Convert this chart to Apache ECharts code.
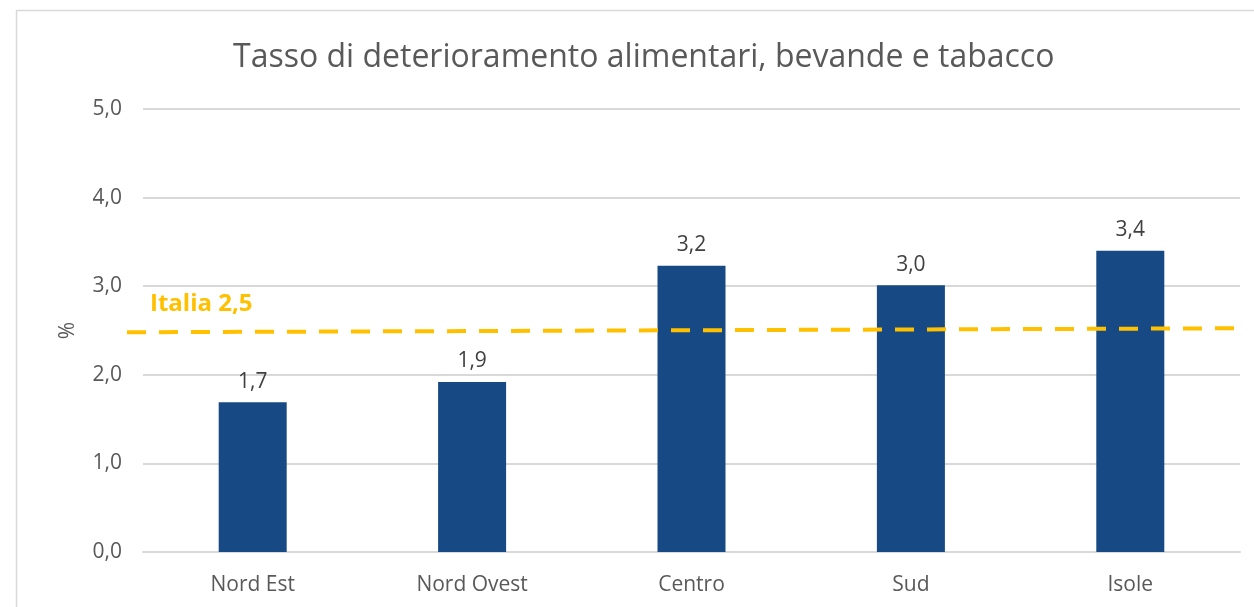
<!DOCTYPE html>
<html><head><meta charset="utf-8">
<script src="https://cdn.jsdelivr.net/npm/echarts@6/dist/echarts.min.js"></script>
<style>html,body{margin:0;padding:0;background:#fff}#c{width:1254px;height:607px}</style>
</head><body><div id="c"></div>
<script>
const categories = ['Nord Est', 'Nord Ovest', 'Centro', 'Sud', 'Isole'];
const values = [1.69, 1.92, 3.23, 3.01, 3.40];
const italiaLine = [[0, 2.48], [1, 2.525]];
const italiaLabel = 'Italia 2,5';
const titleText = 'Tasso di deterioramento alimentari, bevande e tabacco';
const yTicks = [0, 1, 2, 3, 4, 5];

const fmt = v => v.toFixed(1).replace('.', ',');
const FONT = 'Open Sans';
const chart = echarts.init(document.getElementById('c'), null, {renderer: 'canvas'});
chart.setOption({
  animation: false,
  backgroundColor: '#fff',
  textStyle: {fontFamily: FONT},
  title: {
    text: titleText, left: 228, top: 37,
    textStyle: {fontFamily: FONT, fontSize: 32, fontWeight: 'normal', color: '#595959'}
  },
  graphic: [
    {type: 'rect', shape: {x: 16.5, y: 10.5, width: 1400, height: 800}, style: {fill: null, stroke: '#D9D9D9', lineWidth: 1.5}, z: -1},
    {type: 'text', left: 150, top: 292, style: {text: italiaLabel, fill: '#FFC000', font: 'bold 24px "' + FONT + '"'}}
  ],
  grid: [
    {left: 143, right: 14, top: 109, bottom: 55},
    {left: 127, right: 14, top: 109, bottom: 55}
  ],
  xAxis: [
    {type: 'category', gridIndex: 0, data: categories,
      axisLine: {show: true, lineStyle: {color: '#D9D9D9', width: 2}}, axisTick: {show: false},
      axisLabel: {color: '#595959', fontSize: 21, margin: 23, fontFamily: FONT}},
    {type: 'value', gridIndex: 1, min: 0, max: 1, show: false}
  ],
  yAxis: [
    {type: 'value', gridIndex: 0, min: 0, max: 5, interval: 1,
      name: '%', nameLocation: 'middle', nameGap: 64, nameRotate: 90,
      nameTextStyle: {color: '#595959', fontSize: 21, fontFamily: FONT},
      axisLine: {show: false}, axisTick: {show: false},
      axisLabel: {color: '#595959', fontSize: 21, margin: 21, formatter: v => fmt(v), fontFamily: FONT},
      splitLine: {lineStyle: {color: '#D9D9D9', width: 2}}},
    {type: 'value', gridIndex: 1, min: 0, max: 5, show: false}
  ],
  series: [
    {type: 'bar', xAxisIndex: 0, yAxisIndex: 0, data: values, barWidth: '31%',
      itemStyle: {color: '#174A84'},
      label: {show: true, position: 'top', distance: 10, color: '#404040', fontSize: 21, fontFamily: FONT,
        formatter: p => fmt(p.value)}},
    {type: 'line', xAxisIndex: 1, yAxisIndex: 1, data: italiaLine, symbol: 'none', z: 5,
      lineStyle: {color: '#FFC000', width: 4, type: [19, 13]}}
  ]
});
</script></body></html>
